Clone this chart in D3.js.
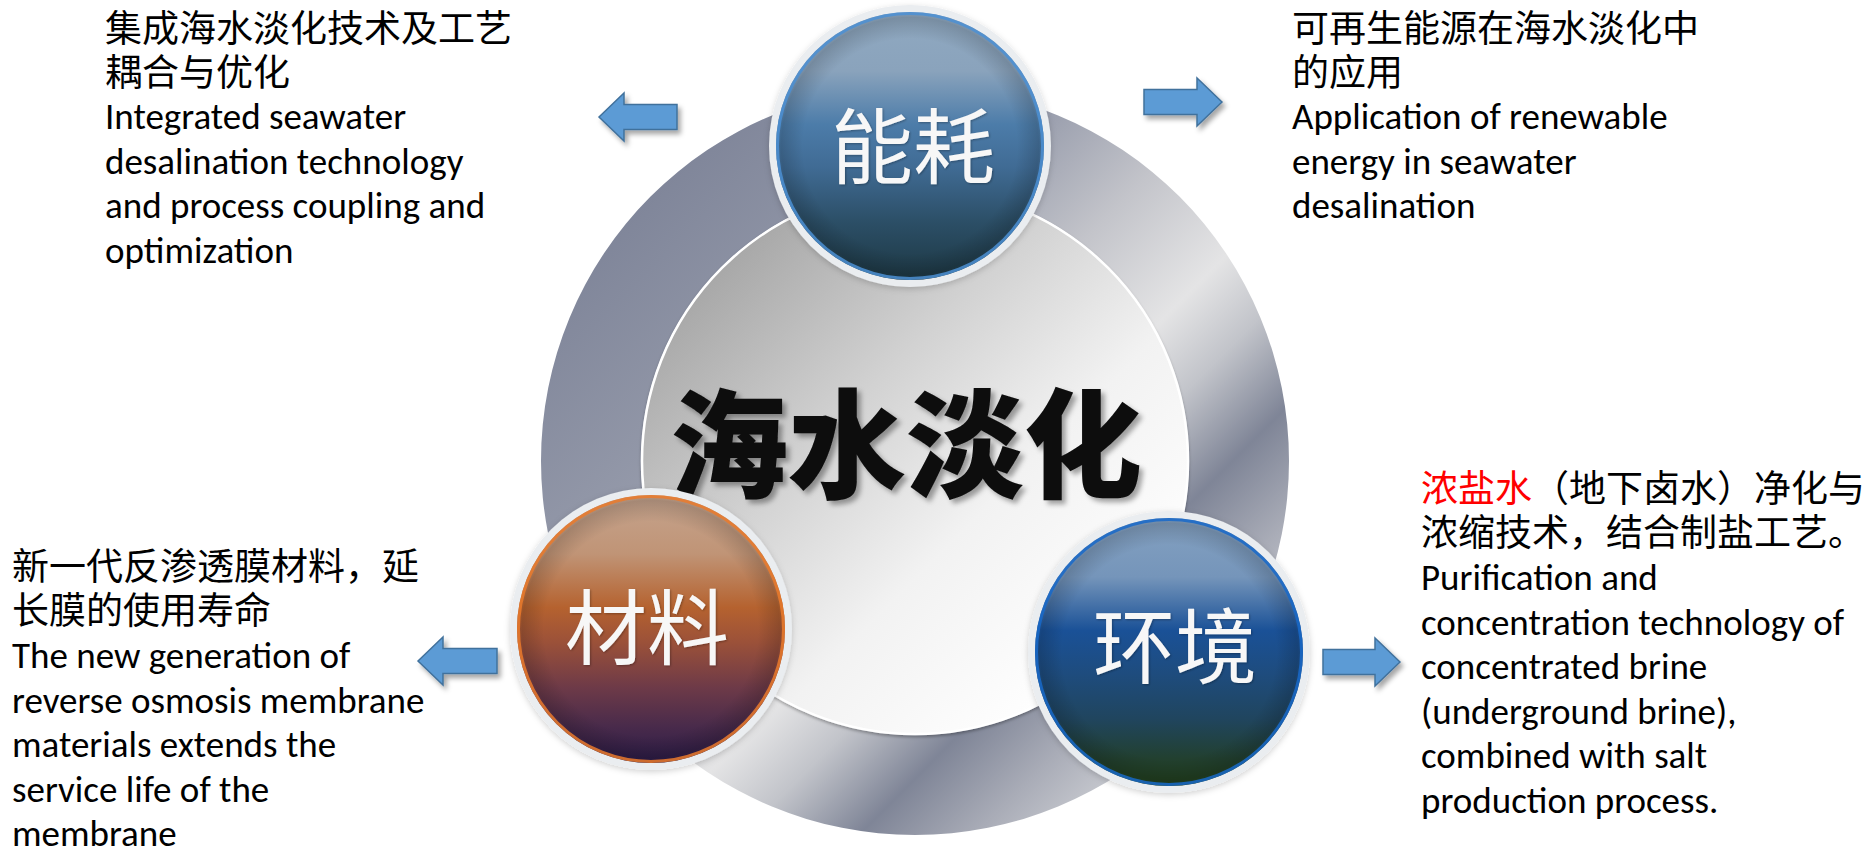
<!DOCTYPE html>
<html>
<head>
<meta charset="utf-8">
<script src="https://cdn.jsdelivr.net/npm/d3@7/dist/d3.min.js"></script>
<style>
  html, body { margin: 0; padding: 0; background: #ffffff; }
  svg { display: block; }
</style>
</head>
<body>
<svg id="chart" width="1876" height="847"></svg>
<script>
// ---- content ----
const centerTitle = "海水淡化";
const topics = ["能耗", "材料", "环境"];

const blockCN = [
  [["集成海水淡化技术及工艺"], ["耦合与优化"]],
  [["可再生能源在海水淡化中"], ["的应用"]],
  [["新一代反渗透膜材料，延"], ["长膜的使用寿命"]],
  [["浓盐水", "（地下卤水）净化与"], ["浓缩技术，结合制盐工艺。"]]
];
const blockEN = [
  ["Integrated seawater", "desalination technology", "and process coupling and", "optimization"],
  ["Application of renewable", "energy in seawater", "desalination"],
  ["The new generation of", "reverse osmosis membrane", "materials extends the", "service life of the", "membrane"],
  ["Purification and", "concentration technology of", "concentrated brine", "(underground brine),", "combined with salt", "production process."]
];
const arrowDir = ["left", "right", "left", "right"];

// ---- layout ----
const W = 1876, H = 847;
const ring = { cx: 915, cy: 461, r0: 274, r1: 374 };
const topicPos = [
  { cx: 910, cy: 146, tx: 913, ty: 177 },
  { cx: 651, cy: 629, tx: 647, ty: 658 },
  { cx: 1169, cy: 652, tx: 1175, ty: 677 }
];
const blockPos = [
  { x: 105, cn: 42, en: 129 },
  { x: 1292, cn: 42, en: 129 },
  { x: 12, cn: 580, en: 668 },
  { x: 1421, cn: 502, en: 590 }
];
const arrowPos = [
  { tip: 599, tail: 677, y: 117 },
  { tip: 1222, tail: 1144, y: 102 },
  { tip: 418, tail: 497, y: 661 },
  { tip: 1400, tail: 1323, y: 662 }
];
const topicColors = [
  { rim: "#4b8fd3", stops: [["0", "#90a9c1"], ["0.22", "#8aa3bc"], ["0.42", "#4c7ca9"], ["0.58", "#406b94"], ["0.78", "#2c4f67"], ["1", "#1d3844"]] },
  { rim: "#ea7a2c", stops: [["0", "#c5a48e"], ["0.22", "#c09476"], ["0.42", "#b5622f"], ["0.55", "#9b5139"], ["0.72", "#6d3a48"], ["0.86", "#4a2b4b"], ["1", "#2b1b47"]] },
  { rim: "#1868c9", stops: [["0", "#84a1c1"], ["0.22", "#7595ba"], ["0.42", "#1a5197"], ["0.58", "#1e4c7e"], ["0.75", "#20455e"], ["0.9", "#22402f"], ["1", "#22401c"]] }
];

const svg = d3.select("#chart");
const defs = svg.append("defs");

// metallic ring shading, diagonal top-left -> bottom-right (coordinates local to the ring group)
const k = ring.r1 * Math.SQRT1_2;
const ringGrad = defs.append("linearGradient").attr("id", "ringGrad")
  .attr("gradientUnits", "userSpaceOnUse")
  .attr("x1", -k).attr("y1", -k)
  .attr("x2", k).attr("y2", k);
[["0", "#80869a"], ["0.28", "#959aaa"], ["0.45", "#c3c4ca"], ["0.6", "#e4e4e5"], ["0.69", "#c2c4ca"],
 ["0.8", "#7f8597"], ["0.91", "#a9acb7"], ["1", "#c8cad0"]]
  .forEach(([o, c]) => ringGrad.append("stop").attr("offset", o).attr("stop-color", c));

const ki = ring.r0 * Math.SQRT1_2;
const innerGrad = defs.append("linearGradient").attr("id", "innerGrad")
  .attr("gradientUnits", "userSpaceOnUse")
  .attr("x1", -ki).attr("y1", -ki)
  .attr("x2", ki).attr("y2", ki);
[["0", "#a8a8a8"], ["0.35", "#d2d2d2"], ["0.65", "#f2f2f2"], ["1", "#ffffff"]]
  .forEach(([o, c]) => innerGrad.append("stop").attr("offset", o).attr("stop-color", c));

topicColors.forEach((tc, i) => {
  const g = defs.append("linearGradient").attr("id", "disc" + i)
    .attr("x1", 0).attr("y1", 0).attr("x2", 0).attr("y2", 1);
  tc.stops.forEach(([o, c]) => g.append("stop").attr("offset", o).attr("stop-color", c));
});
const vign = defs.append("radialGradient").attr("id", "vignette");
[["0", "rgba(0,0,0,0)"], ["0.8", "rgba(0,0,0,0)"], ["0.96", "rgba(0,0,0,0.16)"], ["1", "rgba(0,0,0,0.05)"]]
  .forEach(([o, c]) => vign.append("stop").attr("offset", o).attr("stop-color", c));

function shadow(id, dx, dy, sd, op) {
  const f = defs.append("filter").attr("id", id)
    .attr("x", "-20%").attr("y", "-20%").attr("width", "140%").attr("height", "140%");
  f.append("feDropShadow").attr("dx", dx).attr("dy", dy)
    .attr("stdDeviation", sd).attr("flood-color", "#000").attr("flood-opacity", op);
}
shadow("arrowShadow", 3, 4, 2.5, 0.35);
shadow("discShadow", 0, 2, 3, 0.18);
shadow("innerShadow", 0, 2, 1.5, 0.3);
shadow("titleShadow", 4, 4, 2.5, 0.35);
shadow("labelShadow", 1, 1, 1, 0.3);

// ring and inner disc
const ringG = svg.append("g").attr("transform", `translate(${ring.cx},${ring.cy})`);
const arc = d3.arc();
ringG.append("path")
  .attr("d", arc({ innerRadius: ring.r0, outerRadius: ring.r1, startAngle: 0, endAngle: 2 * Math.PI }))
  .attr("fill", "url(#ringGrad)");

ringG.append("circle")
  .attr("r", ring.r0 - 1)
  .attr("fill", "url(#innerGrad)")
  .attr("stroke", "#ffffff").attr("stroke-width", 2.5)
  .attr("filter", "url(#innerShadow)");

// central title
svg.append("text")
  .attr("x", 906).attr("y", 489)
  .attr("text-anchor", "middle")
  .attr("font-family", "'Noto Sans CJK SC'")
  .attr("font-weight", 900)
  .attr("font-size", 118)
  .attr("fill", "#0a0a0a")
  .attr("filter", "url(#titleShadow)")
  .text(centerTitle);

// topic discs
const discs = svg.selectAll("g.topic").data(topics).join("g").attr("class", "topic");
discs.append("circle")
  .attr("cx", (d, i) => topicPos[i].cx).attr("cy", (d, i) => topicPos[i].cy)
  .attr("r", 141).attr("fill", "#eaedf0")
  .attr("filter", "url(#discShadow)");
discs.append("circle")
  .attr("cx", (d, i) => topicPos[i].cx).attr("cy", (d, i) => topicPos[i].cy)
  .attr("r", 134).attr("fill", (d, i) => `url(#disc${i})`);
discs.append("circle")
  .attr("cx", (d, i) => topicPos[i].cx).attr("cy", (d, i) => topicPos[i].cy)
  .attr("r", 134).attr("fill", "url(#vignette)");
discs.append("circle")
  .attr("cx", (d, i) => topicPos[i].cx).attr("cy", (d, i) => topicPos[i].cy)
  .attr("r", 132.5).attr("fill", "none")
  .attr("stroke", (d, i) => topicColors[i].rim).attr("stroke-width", 3).attr("stroke-opacity", 0.85);
discs.append("text")
  .attr("x", (d, i) => topicPos[i].tx).attr("y", (d, i) => topicPos[i].ty)
  .attr("text-anchor", "middle")
  .attr("font-family", "'Noto Sans CJK SC'")
  .attr("font-size", 82)
  .attr("fill", "#f7f7f7")
  .attr("filter", "url(#labelShadow)")
  .text(d => d);

// block arrows
function arrowPath(a) {
  const s = a.tip < a.tail ? 1 : -1;   // +1 when pointing left
  const head = 25 * s, hw = 24, sw = 12.5;
  const p = [
    [a.tip, a.y],
    [a.tip + head, a.y - hw],
    [a.tip + head, a.y - sw],
    [a.tail, a.y - sw],
    [a.tail, a.y + sw],
    [a.tip + head, a.y + sw],
    [a.tip + head, a.y + hw]
  ];
  return d3.line()(p) + "Z";
}
svg.selectAll("path.arrow").data(arrowDir).join("path")
  .attr("class", "arrow")
  .attr("d", (d, i) => arrowPath(arrowPos[i]))
  .attr("fill", "#5b9bd5")
  .attr("stroke", "#41719c").attr("stroke-width", 1.5)
  .attr("filter", "url(#arrowShadow)");

// description blocks
blockCN.forEach((lines, b) => {
  const p = blockPos[b];
  const g = svg.append("g");
  lines.forEach((parts, li) => {
    const t = g.append("text")
      .attr("x", p.x).attr("y", p.cn + li * 44)
      .attr("font-family", "'Noto Sans CJK SC'")
      .attr("font-size", 37)
      .attr("fill", "#000");
    parts.forEach((s, si) => {
      t.append("tspan")
        .attr("fill", b === 3 && li === 0 && si === 0 ? "#ff0000" : "#000")
        .text(s);
    });
  });
  blockEN[b].forEach((s, li) => {
    g.append("text")
      .attr("x", p.x).attr("y", p.en + li * 44.6)
      .attr("font-family", "Carlito, Lato, sans-serif")
      .attr("font-size", 37)
      .attr("fill", "#000")
      .text(s);
  });
});
</script>
</body>
</html>
